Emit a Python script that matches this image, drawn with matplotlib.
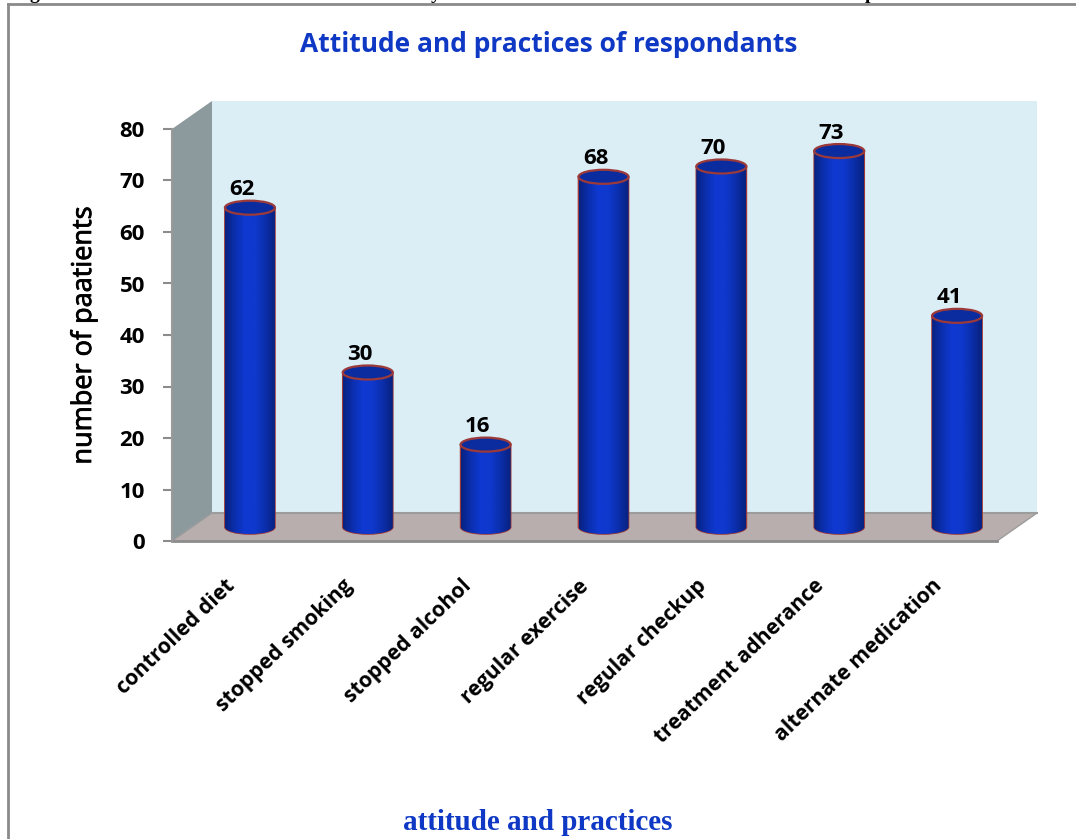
import matplotlib
matplotlib.use("Agg")
import matplotlib.pyplot as plt
import matplotlib.patheffects as pe
from matplotlib.patches import Ellipse, Polygon, PathPatch
from matplotlib.path import Path
from matplotlib.colors import LinearSegmentedColormap
from matplotlib.transforms import ScaledTranslation
import numpy as np

# Data
categories = ["controlled diet", "stopped smoking", "stopped alcohol", "regular exercise",
              "regular checkup", "treatment adherance", "alternate medication"]
values = [62, 30, 16, 68, 70, 73, 41]
y_ticks = [0, 10, 20, 30, 40, 50, 60, 70, 80]

W, H = 1076, 839
DPI = 100
BLUE = "#0f39c4"
FONT = "Open Sans"

fig = plt.figure(figsize=(W / DPI, H / DPI), dpi=DPI)


def fx(px):
    return px / W


def fy(py):
    return 1 - py / H


# front plane of the 3D box, in pixels
LEFT, RIGHT, TOP, BOTTOM = 172, 997, 129, 541
ax = fig.add_axes([fx(LEFT), fy(BOTTOM), (RIGHT - LEFT) / W, (BOTTOM - TOP) / H])
ax.patch.set_visible(False)
for s in ax.spines.values():
    s.set_visible(False)

px_x = (RIGHT - LEFT) / 7      # pixels per category
px_y = (BOTTOM - TOP) / 80     # pixels per value


def shifted(dx, dy):
    return ax.transData + ScaledTranslation(dx / DPI, dy / DPI, fig.dpi_scale_trans)


# walls
DEPTH_X, DEPTH_Y = 40, 28
dx_d, dy_d = DEPTH_X / px_x, DEPTH_Y / px_y
ax.add_patch(Polygon([(-0.5 + dx_d, 80 + dy_d), (6.5 + dx_d, 80 + dy_d), (6.5 + dx_d, dy_d), (-0.5 + dx_d, dy_d)],
                     fc="#dbedf5", ec="none", zorder=1, clip_on=False))
ax.add_patch(Polygon([(-0.5, 0), (-0.5, 80), (-0.5 + dx_d, 80 + dy_d), (-0.5 + dx_d, dy_d)],
                     fc="#8c999d", ec="none", zorder=2, clip_on=False))
ax.add_patch(Polygon([(-0.5, 0), (6.5, 0), (6.5 + dx_d, dy_d), (-0.5 + dx_d, dy_d)],
                     fc="#b8aeae", ec="none", zorder=2, clip_on=False))
ax.plot([-0.5 + dx_d, 6.5 + dx_d], [dy_d, dy_d], color="#9c9c9c", lw=1.5, zorder=2.5, clip_on=False)
ax.plot([-0.5, -0.5 + dx_d], [0, dy_d], color="#9c9c9c", lw=1, zorder=2.5, clip_on=False)
ax.plot([6.5, 6.5 + dx_d], [0, dy_d], color="#9c9c9c", lw=1, zorder=2.5, clip_on=False)
ax.plot([-0.5, 6.5], [0, 0], color="#8c8c8c", lw=2, zorder=2.5, clip_on=False)
ax.plot([-0.5, -0.5], [0, 80], color="#9a9a9a", lw=1.5, zorder=2.5, clip_on=False)

ax.set_xticks(range(7))
ax.set_xticklabels(categories, rotation=44, ha="right", rotation_mode="anchor",
                   fontsize=15.2, family=FONT, weight="bold", color="black")
ax.tick_params(axis="x", length=0, pad=25)
for lab in ax.get_xticklabels():
    lab.set_transform(lab.get_transform() + ScaledTranslation(-6 / DPI, 0, fig.dpi_scale_trans))
ax.set_yticks(y_ticks)
ax.set_yticklabels([str(v) for v in y_ticks], fontsize=16, family=FONT, weight="bold", color="black")
ax.tick_params(axis="y", length=6.5, width=1.5, color="#8c8c8c", pad=13)

# cylinders sit halfway into the box
cmap = LinearSegmentedColormap.from_list("cyl", ["#08227f", "#0b2fb0", "#0f39d2", "#0f38cc", "#0b2eaa", "#08227f"])
grad = np.linspace(0, 1, 128).reshape(1, -1)
tr = shifted(19, 14)
BAR_W = 50 / px_x
ELL_H = 14 / px_y
K = 0.5523  # bezier factor for a quarter ellipse
for i, v in enumerate(values):
    x0, x1 = i - BAR_W / 2, i + BAR_W / 2
    rx, ry = BAR_W / 2, ELL_H / 2
    body = Path([(x0, v), (x0, 0),
                 (x0, -K * ry), (i - K * rx, -ry), (i, -ry),
                 (i + K * rx, -ry), (x1, -K * ry), (x1, 0),
                 (x1, v), (x0, v)],
                [Path.MOVETO, Path.LINETO,
                 Path.CURVE4, Path.CURVE4, Path.CURVE4,
                 Path.CURVE4, Path.CURVE4, Path.CURVE4,
                 Path.LINETO, Path.CLOSEPOLY])
    ax.add_patch(PathPatch(body, fc="none", ec="#a03a3a", lw=1.2, transform=tr, zorder=3, clip_on=False))
    im = ax.imshow(grad, cmap=cmap, aspect="auto", extent=(x0, x1, -ELL_H, v), transform=tr, zorder=3.2)
    clip = PathPatch(body, transform=tr, fc="none", ec="none")
    ax.add_patch(clip)
    im.set_clip_box(fig.bbox)
    im.set_clip_path(clip)
    ax.add_patch(Ellipse((i, v), BAR_W, ELL_H, fc="#0a2c9e", ec="#9c3a3a", lw=1.6, transform=tr, zorder=4,
                         clip_on=False))
    ax.text(i - 8 / px_x, v + 18 / px_y, str(v), transform=tr, ha="center", va="center", fontsize=16,
            family=FONT, weight="bold", color="black", zorder=5, clip_on=False)
ax.set_xlim(-0.5, 6.5)
ax.set_ylim(0, 80)

# titles
fig.text(fx(549), fy(44), "Attitude and practices of respondants", ha="center", va="center", fontsize=19,
         family=FONT, weight="bold", color=BLUE)
fig.text(fx(84), fy(335), "number of paatients", ha="center", va="center", rotation=90, fontsize=19.5,
         family=FONT, color="black", path_effects=[pe.withStroke(linewidth=0.6, foreground="black")])
fig.text(fx(538), fy(823), "attitude and practices", ha="center", va="center", fontsize=21,
         family="Liberation Serif", weight="bold", color=BLUE)

# descenders of the caption line cut off above the chart
for letter, px in [("g", 34), ("y", 436), ("p", 870)]:
    fig.text(fx(px), fy(-1), letter, ha="center", va="baseline", fontsize=14, family="Liberation Serif",
             weight="bold", color="black")

# outer chart frame, cut by the image edge
fig.add_artist(plt.Line2D([fx(8), fx(8)], [0, fy(4)], color="#8a8a8a", lw=2))
fig.add_artist(plt.Line2D([fx(8), 1], [fy(4), fy(4)], color="#8a8a8a", lw=2))

fig.savefig("out.png", dpi=DPI)
